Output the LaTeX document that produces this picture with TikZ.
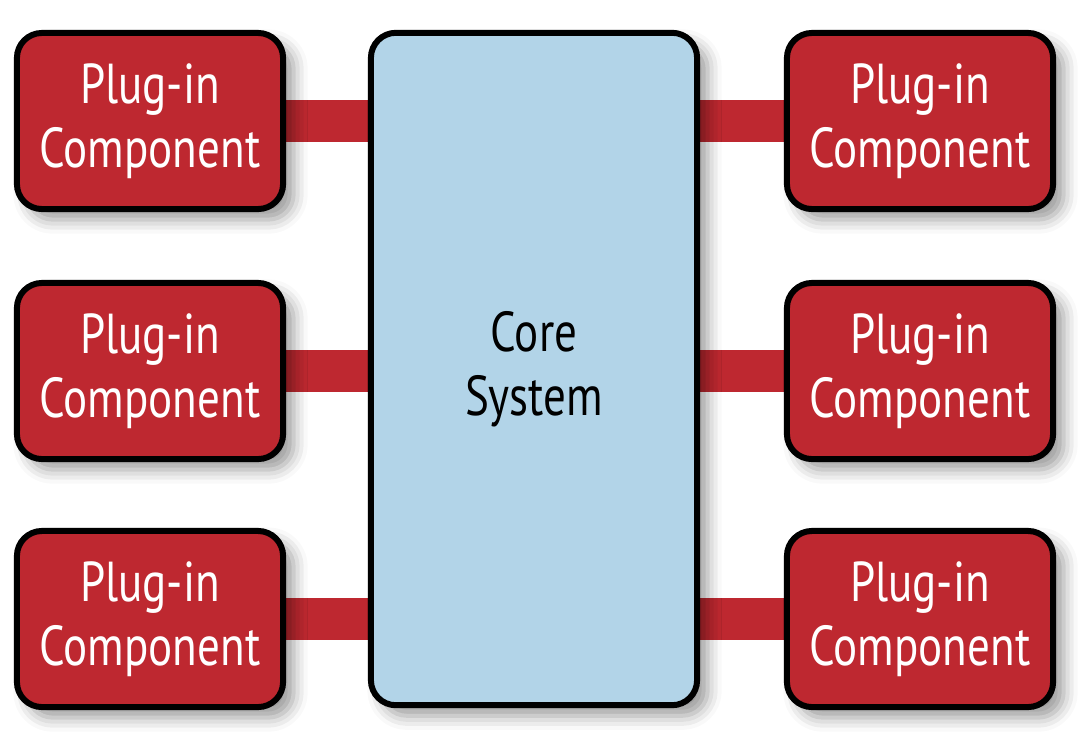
\documentclass[tikz,border=0pt]{standalone}
\usepackage{fontspec}
\setsansfont{PT Sans}[FakeStretch=0.8]
\usetikzlibrary{shadows.blur,backgrounds}
\definecolor{plugred}{HTML}{BE2830}
\definecolor{coreblue}{HTML}{B2D4E8}
\begin{document}
\begin{tikzpicture}[
    x=0.01cm, y=-0.01cm,
    every node/.style={draw=black, line width=0.06cm, rounded corners=0.25cm, align=center,
        font=\sffamily\fontsize{16}{18.2}\selectfont,
        blur shadow={shadow xshift=3pt, shadow yshift=-3pt, shadow blur radius=4pt, shadow opacity=40}},
    plugin/.style={fill=plugred, text=white, minimum width=2.66cm, minimum height=1.76cm},
    core/.style={fill=coreblue, minimum width=3.26cm, minimum height=6.72cm},
    link/.style={draw=plugred, line width=0.42cm}
]
    \useasboundingbox (0,0) rectangle (1080,748);

    % Core
    \node[core] (core) at (534,369) {Core\\System};

    % Plug-ins, left column
    \node[plugin] (l1) at (150,121) {Plug-in\\Component};
    \node[plugin] (l2) at (150,371) {Plug-in\\Component};
    \node[plugin] (l3) at (150,619) {Plug-in\\Component};

    % Plug-ins, right column
    \node[plugin] (r1) at (920,121) {Plug-in\\Component};
    \node[plugin] (r2) at (920,371) {Plug-in\\Component};
    \node[plugin] (r3) at (920,619) {Plug-in\\Component};

    % Links
    \begin{scope}[on background layer]
        \foreach \p in {l1,l2,l3} \draw[link] (\p) -- (core.west |- \p);
        \foreach \p in {r1,r2,r3} \draw[link] (core.east |- \p) -- (\p);
    \end{scope}
\end{tikzpicture}
\end{document}
